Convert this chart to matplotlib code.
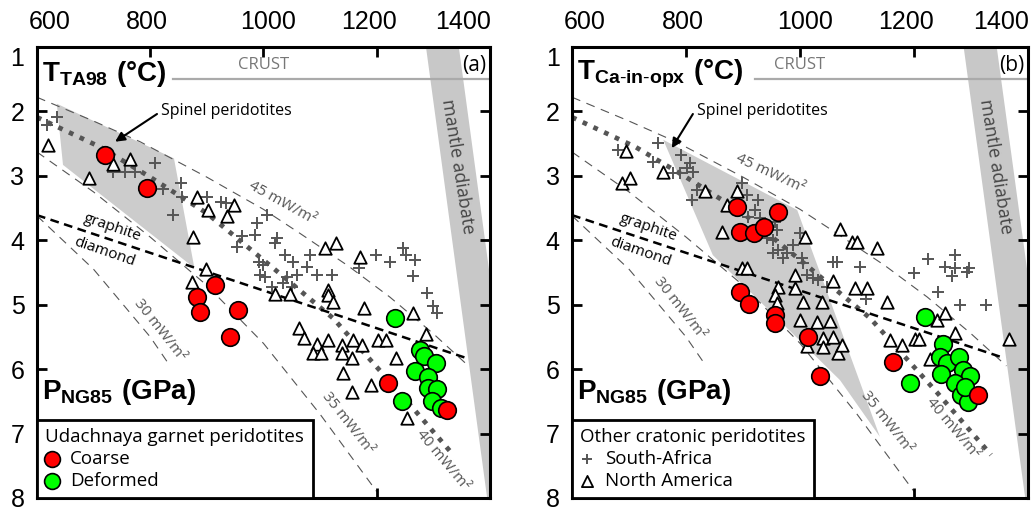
import matplotlib.pyplot as plt
from matplotlib.patches import Polygon

plt.rcParams['font.family'] = ['Open Sans', 'DejaVu Sans']
plt.rcParams['mathtext.fontset'] = 'custom'
plt.rcParams['mathtext.rm'] = 'Liberation Sans'
plt.rcParams['mathtext.bf'] = 'Liberation Sans:bold'

# ---- DATA (T in deg C, P in GPa) ----
# panel (a) : TA98
coarse_a_T = [720, 794, 914, 883, 888, 955, 941, 1220, 1324]
coarse_a_P = [2.68, 3.19, 4.69, 4.88, 5.11, 5.08, 5.50, 6.21, 6.63]
deformed_a_T = [1232, 1276, 1283, 1305, 1268, 1290, 1290, 1306, 1298, 1245, 1313]
deformed_a_P = [5.21, 5.70, 5.80, 5.90, 6.03, 6.12, 6.29, 6.31, 6.49, 6.49, 6.60]
namer_a_T = [619, 692, 734, 764, 883, 902, 936, 948, 875, 898, 874, 1020, 1047, 1109, 1128,
             1170, 1114, 1114, 1123, 1177, 1264, 1287, 1063, 1072, 1094, 1087, 1102, 1114, 1139,
             1139, 1158, 1174, 1156, 1202, 1216, 1234, 1140, 1156, 1190, 1253]
namer_a_P = [2.52, 3.03, 2.82, 2.74, 3.33, 3.53, 3.62, 3.45, 3.95, 4.45, 4.65, 4.83, 4.83, 4.12, 4.04,
             4.26, 4.77, 4.85, 4.96, 5.05, 5.13, 5.45, 5.36, 5.52, 5.61, 5.75, 5.75, 5.55, 5.62,
             5.75, 5.55, 5.62, 5.83, 5.55, 5.55, 5.83, 6.06, 6.35, 6.25, 6.76]
safr_a_T = [618, 635, 734, 755, 773, 808, 823, 854, 840, 856, 900, 925, 934, 962, 985, 989, 953,
            1006, 1024, 1020, 992, 999, 994, 1003, 1038, 1052, 1082, 1077, 1094, 1059, 1042, 1034,
            1050, 1015, 1121, 1169, 1199, 1223, 1246, 1252, 1268, 1264, 1289, 1299, 1306]
safr_a_P = [2.21, 2.09, 2.94, 2.94, 2.94, 2.80, 3.20, 3.11, 3.61, 3.33, 3.33, 3.41, 3.42, 3.93, 3.92,
            3.73, 4.10, 3.61, 3.96, 4.04, 4.34, 4.38, 4.54, 4.57, 4.23, 4.34, 4.23, 4.41, 4.54, 4.54,
            4.57, 4.66, 4.72, 4.72, 4.54, 4.43, 4.23, 4.34, 4.12, 4.23, 4.31, 4.55, 4.82, 5.02, 5.13]

# panel (b) : Ca-in-opx
coarse_b_T = [889, 961, 895, 919, 937, 895, 910, 956, 956, 1014, 1035, 1163, 1312]
coarse_b_P = [3.48, 3.56, 3.87, 3.89, 3.79, 4.80, 4.99, 5.16, 5.28, 5.50, 6.11, 5.89, 6.40]
deformed_b_T = [1219, 1251, 1245, 1258, 1279, 1286, 1298, 1247, 1272, 1193, 1282, 1295, 1289]
deformed_b_P = [5.19, 5.61, 5.81, 5.90, 5.81, 6.01, 6.11, 6.08, 6.21, 6.21, 6.40, 6.51, 6.28]
namer_b_T = [695, 688, 702, 760, 833, 889, 872, 863, 1009, 898, 907, 991, 961, 991, 956, 960, 1005,
             1039, 1058, 1000, 1030, 1053, 1040, 1058, 1012, 1040, 1067, 1074, 1070, 1091, 1100, 1135,
             1096, 1117, 1153, 1158, 1179, 1202, 1209, 1240, 1254, 1272, 1228, 1366]
namer_b_P = [2.61, 3.11, 3.03, 2.94, 3.23, 3.23, 3.45, 3.87, 3.95, 4.43, 4.43, 4.54, 4.72, 4.74, 4.85,
             4.97, 4.96, 4.96, 4.63, 5.24, 5.27, 5.25, 5.52, 5.50, 5.64, 5.66, 5.75, 5.62, 3.82, 4.03,
             4.03, 4.12, 4.74, 4.74, 4.96, 5.55, 5.62, 5.53, 5.53, 5.24, 5.13, 5.44, 5.84, 5.53]
safr_b_T = [681, 751, 791, 807, 802, 812, 742, 777, 789, 819, 810, 898, 907, 926, 921, 909, 930, 956,
            960, 942, 953, 961, 988, 970, 1000, 1003, 1005, 1023, 1031, 1058, 1065, 1047, 953, 977,
            1012, 1105, 1116, 1224, 1200, 1242, 1272, 1254, 1272, 1296, 1267, 1281, 1326, 1293]
safr_b_P = [2.60, 2.49, 2.68, 2.80, 2.88, 2.94, 2.78, 2.96, 2.96, 3.22, 3.37, 3.11, 3.30, 3.37, 3.53,
            3.64, 3.65, 3.72, 3.84, 3.96, 4.00, 4.15, 4.07, 4.27, 3.89, 4.27, 4.35, 4.59, 4.62, 4.34,
            4.34, 4.72, 4.20, 4.20, 4.54, 4.41, 4.91, 4.29, 4.51, 4.80, 4.23, 4.41, 4.43, 4.43, 4.55,
            5.00, 5.00, 4.49]

# geotherms and reactions (same in both panels)
g45_T = [600, 700, 782, 900, 1000, 1064, 1150, 1223, 1300, 1362]
g45_P = [1.78, 2.15, 2.47, 3.02, 3.52, 3.89, 4.40, 4.88, 5.45, 5.95]
g40_T = [600, 711, 800, 900, 1017, 1123, 1241, 1335]
g40_P = [2.09, 2.55, 3.02, 3.58, 4.43, 5.21, 6.37, 7.33]
g35_T = [600, 700, 800, 900, 1000, 1100, 1200]
g35_P = [2.63, 3.25, 3.95, 4.70, 5.60, 6.70, 7.90]
g30_T = [600, 700, 800, 835]
g30_P = [3.62, 4.45, 5.50, 5.95]
gd_T = [600, 1359]
gd_P = [3.61, 5.83]
adiabat_T = [1287, 1345, 1453, 1395]
adiabat_P = [1, 1, 8, 8]
spinel_a_T = [635, 842, 878, 646]
spinel_a_P = [1.88, 2.73, 4.43, 2.83]
spinel_b_T = [760, 995, 1140, 1070, 847]
spinel_b_P = [2.44, 3.53, 7.05, 6.17, 4.23]

xlab_pos = [623, 795, 1008, 1186, 1352]
xlab_txt = ['600', '800', '1000', '1200', '1400']

fig = plt.figure(figsize=(10.35, 5.08), dpi=100)
ax_a = fig.add_axes([0.0357, 0.0197, 0.4377, 0.8878])
ax_b = fig.add_axes([0.5527, 0.0197, 0.4406, 0.8878])

gline = '#555555'


def draw_panel(ax, title, letter, crust_start, arrow_tip, spinel_T, spinel_P, coarse, deformed,
               namer, safr, labels, legend_title, legend_kind):
    ax.set_xlim(600, 1400)
    ax.set_ylim(8, 1)
    # shaded fields
    ax.add_patch(Polygon(list(zip(adiabat_T, adiabat_P)), closed=True, fc='#c8c8c8', ec='none', zorder=0))
    ax.add_patch(Polygon(list(zip(spinel_T, spinel_P)), closed=True, fc='#cccccc', ec='none', zorder=0))
    ax.plot([crust_start, 1400], [1.5, 1.5], color='#aaaaaa', lw=1.6, zorder=1)
    ax.text(1000, 1.28, 'CRUST', color='#777777', fontsize=12, ha='center', va='center')
    ax.text(1343, 2.85, 'mantle adiabate', color='#444444', fontsize=13, rotation=-81,
            ha='center', va='center')

    # geotherms
    for T, P in [(g45_T, g45_P), (g35_T, g35_P), (g30_T, g30_P)]:
        ax.plot(T, P, color=gline, lw=0.8, ls=(0, (8, 6)), zorder=1)
    ax.plot(g40_T, g40_P, color=gline, lw=3.4, ls=(0, (1, 1.5)), zorder=1)
    ax.plot(gd_T, gd_P, color='black', lw=1.8, ls=(0, (3.5, 2.2)), zorder=1)
    ax.text(734, 3.81, 'graphite', fontsize=11, rotation=-19, ha='center', va='center')
    ax.text(720, 4.18, 'diamond', fontsize=11, rotation=-19, ha='center', va='center')
    for (t, p, rot), s in zip(labels, ['45', '40', '35', '30']):
        ax.text(t, p, s + ' mW/m²', color=gline, fontsize=11, rotation=rot, ha='center', va='center')

    # spinel arrow
    ax.annotate('', xy=arrow_tip, xytext=(812, 2.04),
                arrowprops=dict(arrowstyle='-|>', color='black', lw=1.5, mutation_scale=14,
                                shrinkA=0, shrinkB=0))
    ax.text(819, 2.0, 'Spinel peridotites', fontsize=11.5, ha='left', va='center')

    # samples
    ax.scatter(safr[0], safr[1], marker='+', s=70, color='#555555', linewidths=1.4, zorder=3,
               label='South-Africa')
    ax.scatter(namer[0], namer[1], marker='^', s=80, facecolor='white', edgecolor='black',
               linewidths=1.3, zorder=4, label='North America')
    ax.scatter(deformed[0], deformed[1], s=160, color='#00ff00', edgecolor='black', linewidths=1.2,
               zorder=5, label='Deformed')
    ax.scatter(coarse[0], coarse[1], s=160, color='#ff0000', edgecolor='black', linewidths=1.2,
               zorder=6, label='Coarse')

    # titles inside the frame
    ax.text(0.011, 0.94, title, transform=ax.transAxes, fontsize=20, ha='left', va='center')
    ax.text(0.011, 0.235, r'$\mathbf{P_{NG85}\ (GPa)}$', transform=ax.transAxes, fontsize=20,
            ha='left', va='center')
    ax.text(0.992, 0.96, letter, transform=ax.transAxes, fontsize=15, ha='right', va='center')

    # axes style
    for sp in ax.spines.values():
        sp.set_linewidth(2.2)
    ax.set_xticks([800, 1000, 1200])
    ax.set_yticks(range(1, 9))
    ax.tick_params(direction='in', length=7, width=2, top=True, right=True,
                   labelbottom=False, labeltop=False, labelsize=18, pad=9)
    for lab in ax.get_yticklabels():
        lab.set_family('Liberation Sans')
    ax.get_yticklabels()[0].set_va('top')
    for x, s in zip(xlab_pos, xlab_txt):
        ax.text(x, 1.055, s, transform=ax.get_xaxis_transform(), ha='center', va='center',
                fontsize=18, family='Liberation Sans')

    handles, names = ax.get_legend_handles_labels()
    order = ['Coarse', 'Deformed'] if legend_kind == 'u' else ['South-Africa', 'North America']
    hs = [handles[names.index(n)] for n in order]
    leg = ax.legend(hs, order, title=legend_title, loc='lower left', borderaxespad=0,
                    frameon=True, fancybox=False, edgecolor='black', framealpha=1,
                    fontsize=13.5, title_fontsize=13.5, alignment='left', handlelength=0.7,
                    handletextpad=0.6, labelspacing=0.2, borderpad=0.45, markerscale=0.9)
    leg.get_frame().set_linewidth(2.0)
    leg.set_zorder(10)


draw_panel(ax_a, r'$\mathbf{T_{TA98}\ (°C)}$', '(a)', 840, (738, 2.47), spinel_a_T, spinel_a_P,
           (coarse_a_T, coarse_a_P), (deformed_a_T, deformed_a_P),
           (namer_a_T, namer_a_P), (safr_a_T, safr_a_P),
           [(1034, 3.42, -29), (1317, 7.41, -50), (1149, 6.84, -52), (817, 5.39, -52)],
           'Udachnaya garnet peridotites', 'u')
draw_panel(ax_b, r'$\mathbf{T_{Ca\text{-}in\text{-}opx}\ (°C)}$', '(b)', 921, (775, 2.57),
           spinel_b_T, spinel_b_P,
           (coarse_b_T, coarse_b_P), (deformed_b_T, deformed_b_P),
           (namer_b_T, namer_b_P), (safr_b_T, safr_b_P),
           [(947, 2.97, -25), (1267, 6.91, -50), (1151, 6.82, -52), (789, 5.05, -52)],
           'Other cratonic peridotites', 'o')

fig.savefig('out.png', dpi=100)
